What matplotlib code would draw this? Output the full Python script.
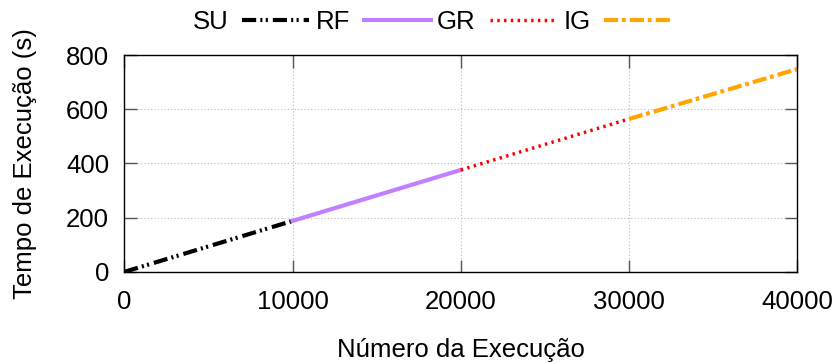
import numpy as np
import matplotlib.pyplot as plt

plt.rcParams['font.family'] = ['Liberation Sans', 'DejaVu Sans']

# Dados
su_x = [0, 10000]
su_y = [0, 188]
rf_x = [10000, 20000]
rf_y = [188, 376]
gr_x = [20000, 30000]
gr_y = [376, 564]
ig_x = [30000, 40000]
ig_y = [564, 748]

fs = 18.5

fig, ax = plt.subplots(figsize=(8.4, 3.62), dpi=100)
fig.subplots_adjust(left=0.148, right=0.949, top=0.848, bottom=0.249)

ax.plot(su_x, su_y, color='black', lw=3, dashes=(3.4, 1.0, 0.5, 0.8, 0.5, 1.2), label='SU')
ax.plot(rf_x, rf_y, color='#c080ff', lw=3, label='RF')
ax.plot(gr_x, gr_y, color='#ff0000', lw=2.5, dashes=(0.7, 1.25), label='GR')
ax.plot(ig_x, ig_y, color='#ffa500', lw=3, dashes=(3.4, 0.9, 0.9, 1.0), label='IG')

ax.set_xlim(0, 40000)
ax.set_ylim(0, 800)
ax.set_xticks([0, 10000, 20000, 30000, 40000])
ax.set_yticks([0, 200, 400, 600, 800])
ax.tick_params(direction='in', length=9, width=1, top=True, right=True, labelsize=fs, color='#555555')
ax.tick_params(axis='x', pad=13)
ax.tick_params(axis='y', pad=11)
ax.grid(True, color='#bbbbbb', linestyle=(0, (1, 2)), lw=0.8)
for s in ax.spines.values():
    s.set_linewidth(1)

ax.set_xlabel('Número da Execução', fontsize=fs, labelpad=17)
ax.set_ylabel('Tempo de Execução (s)', fontsize=fs, labelpad=21)

ax.legend(loc='lower center', bbox_to_anchor=(0.457, 1.0), ncol=4, frameon=False, markerfirst=False,
          fontsize=fs, handlelength=2.6, columnspacing=0.25, handletextpad=0.55, borderaxespad=0.42)

plt.savefig('out.png', dpi=100)
